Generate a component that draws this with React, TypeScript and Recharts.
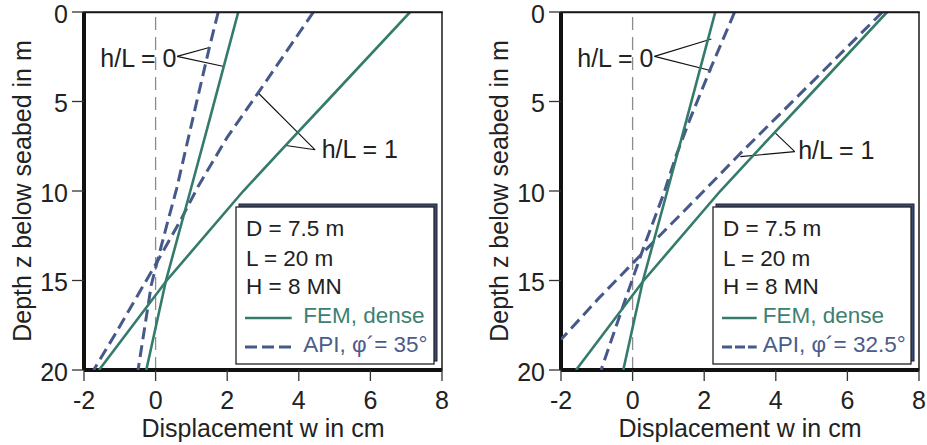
import React from 'react';
import { ScatterChart, Scatter, XAxis, YAxis, ReferenceLine, ReferenceDot, ReferenceArea } from 'recharts';

// ---------- ticks ----------
const xTicks = [-2, 0, 2, 4, 6, 8];
const yTicks = [0, 5, 10, 15, 20];

// ---------- FEM, dense (same in both panels) ----------
const femH0Depth = [0, 3, 6, 10, 15, 20];
const femH0Disp = [2.31, 1.91, 1.51, 0.97, 0.29, -0.26];
const femH1Depth = [0, 5, 7, 10, 15, 20];
const femH1Disp = [7.11, 4.78, 3.84, 2.45, 0.31, -1.58];

// ---------- API, phi' = 35° (left panel) ----------
const apiLeftH0Depth = [0, 2, 5, 9.85, 12, 13.6, 15.25, 20];
const apiLeftH0Disp = [1.75, 1.5, 1.15, 0.59, 0.3, 0.09, -0.12, -0.49];
const apiLeftH1Depth = [0, 4.5, 7, 9.7, 11.7, 14, 16, 18, 20];
const apiLeftH1Disp = [4.41, 2.87, 2.0, 1.2, 0.68, 0.03, -0.55, -1.13, -1.73];

// ---------- API, phi' = 32.5° (right panel) ----------
const apiRightH0Depth = [0, 3.2, 6, 8, 10.2, 13.2, 16.1, 20];
const apiRightH0Disp = [2.85, 2.17, 1.6, 1.22, 0.86, 0.3, -0.21, -0.88];
const apiRightH1Depth = [0, 4, 8, 10, 12, 14, 16, 18.3];
const apiRightH1Disp = [6.98, 4.97, 2.96, 1.99, 1.0, 0.02, -0.95, -2.0];

// ---------- annotations (data coordinates: w, z) ----------
const leftPointers = [
  [[0.6, 2.48], [1.5, 1.98]],
  [[0.6, 2.48], [1.91, 3.04]],
  [[4.455, 7.7], [2.84, 4.47]],
  [[4.455, 7.7], [3.64, 7.46]],
];
const leftLabels = [
  { w: 0.585, z: 3.08, text: 'h/L = 0', anchor: 'end' },
  { w: 4.64, z: 8.17, text: 'h/L = 1', anchor: 'start' },
];
const rightPointers = [
  [[0.61, 2.48], [2.2, 1.51]],
  [[0.61, 2.48], [2.2, 3.28]],
  [[4.53, 7.8], [3.99, 6.77]],
  [[4.53, 7.8], [3.01, 8.08]],
];
const rightLabels = [
  { w: 0.583, z: 3.1, text: 'h/L = 0', anchor: 'end' },
  { w: 4.625, z: 8.2, text: 'h/L = 1', anchor: 'start' },
];

const legendParams = ['D = 7.5 m', 'L = 20 m', 'H = 8 MN'];
const femLabel = 'FEM, dense';
const apiLeftLabel = 'API, φ´= 35°';
const apiRightLabel = 'API, φ´= 32.5°';

const xTitle = 'Displacement w in cm';
const yTitle = 'Depth z below seabed in m';

const zip = (depth: number[], disp: number[]) => depth.map((z, i) => ({ z, w: disp[i] }));

const FONT = "'Liberation Sans', Arial, Helvetica, sans-serif";
const GREEN = '#357b6c';
const BLUE = '#46598a';
const GREEN_TEXT = '#3e8071';
const BLUE_TEXT = '#4b5c8b';

const NoShape = () => <g />;

type PanelProps = {
  left: number;
  width: number;
  apiH0: { z: number; w: number }[];
  apiH1: { z: number; w: number }[];
  pointers: number[][][];
  labels: { w: number; z: number; text: string; anchor: string }[];
  apiLabel: string;
  sampleEnd: number;
  textStart: number;
};

function Legend({ apiLabel, sampleEnd, textStart }: { apiLabel: string; sampleEnd: number; textStart: number }) {
  const baselines = [236, 265.5, 294, 323, 352];
  return (
    <svg
      width={450}
      height={445}
      style={{ position: 'absolute', left: 0, top: 0, pointerEvents: 'none' }}
    >
      {/* top edge of the plot frame */}
      <line x1={84} x2={442.7} y1={12.5} y2={12.5} stroke="#1a1a1a" strokeWidth={1.5} />
      <rect x={239} y={204} width={198} height={157} fill="#3a4a76" stroke="#1e2230" strokeWidth={1} />
      <rect x={236} y={207} width={198} height={157} fill="#ffffff" stroke="#222" strokeWidth={1.3} />
      {legendParams.map((t, i) => (
        <text key={t} x={246} y={baselines[i]} fontSize={22.5} fill="#222" fontFamily={FONT}>
          {t}
        </text>
      ))}
      <line x1={245} x2={sampleEnd} y1={318} y2={318} stroke={GREEN} strokeWidth={2.6} />
      <text x={textStart} y={baselines[3]} fontSize={22.5} fill={GREEN_TEXT} fontFamily={FONT}>
        {femLabel}
      </text>
      <line
        x1={245}
        x2={sampleEnd}
        y1={347}
        y2={347}
        stroke={BLUE}
        strokeWidth={3}
        strokeDasharray={sampleEnd - 245 > 40 ? '12 5' : '10 3'}
      />
      <text x={textStart} y={baselines[4]} fontSize={22.5} fill={BLUE_TEXT} fontFamily={FONT}>
        {apiLabel}
      </text>
    </svg>
  );
}

function Panel({ left, width, apiH0, apiH1, pointers, labels, apiLabel, sampleEnd, textStart }: PanelProps) {
  const femH0 = zip(femH0Depth, femH0Disp);
  const femH1 = zip(femH1Depth, femH1Disp);
  const tickStyle = { fontSize: 25, fill: '#222', fontFamily: FONT };
  return (
    <div style={{ position: 'absolute', left, top: 0, width, height: 445 }}>
      <ScatterChart width={width} height={445} margin={{ top: 12, right: width - 442, bottom: 0, left: 0 }}>
        <XAxis
          type="number"
          dataKey="w"
          domain={[-2, 8]}
          ticks={xTicks}
          interval={0}
          allowDataOverflow
          height={75}
          tickSize={11}
          tickMargin={10}
          tick={tickStyle}
          tickLine={{ stroke: '#333', strokeWidth: 1.3 }}
          axisLine={{ stroke: '#111', strokeWidth: 4 }}
          label={{
            value: xTitle,
            position: 'insideBottom',
            offset: 8,
            style: { fontSize: 25, fill: '#222', fontFamily: FONT },
          }}
        />
        <YAxis
          type="number"
          dataKey="z"
          domain={[0, 20]}
          reversed
          ticks={yTicks}
          interval={0}
          allowDataOverflow
          width={84}
          tickSize={12}
          tickMargin={4}
          tick={{ ...tickStyle, dy: 2 }}
          tickLine={{ stroke: '#333', strokeWidth: 1.3 }}
          axisLine={{ stroke: '#111', strokeWidth: 4 }}
          label={{
            value: yTitle,
            angle: -90,
            position: 'insideLeft',
            offset: 22,
            style: { fontSize: 25, fill: '#222', fontFamily: FONT, textAnchor: 'middle' },
          }}
        />
        <ReferenceArea
          x1={-2}
          x2={8}
          y1={0}
          y2={20}
          ifOverflow="visible"
          fill="none"
          fillOpacity={0}
          stroke="#1a1a1a"
          strokeWidth={1.5}
        />
        <ReferenceLine x={0} stroke="#8c8c8c" strokeWidth={1.3} strokeDasharray="13 7" />
        <Scatter
          data={apiH0}
          fill={BLUE}
          line={{ stroke: BLUE, strokeWidth: 3, strokeDasharray: '12 6' }}
          shape={NoShape}
          isAnimationActive={false}
        />
        <Scatter
          data={apiH1}
          fill={BLUE}
          line={{ stroke: BLUE, strokeWidth: 3, strokeDasharray: '12 6' }}
          shape={NoShape}
          isAnimationActive={false}
        />
        <Scatter
          data={femH0}
          fill={GREEN}
          line={{ stroke: GREEN, strokeWidth: 2.6 }}
          shape={NoShape}
          isAnimationActive={false}
        />
        <Scatter
          data={femH1}
          fill={GREEN}
          line={{ stroke: GREEN, strokeWidth: 2.6 }}
          shape={NoShape}
          isAnimationActive={false}
        />
        {pointers.map((seg, i) => (
          <ReferenceLine
            key={'p' + i}
            segment={[
              { x: seg[0][0], y: seg[0][1] },
              { x: seg[1][0], y: seg[1][1] },
            ]}
            stroke="#111"
            strokeWidth={1.1}
          />
        ))}
        {labels.map((l, i) => (
          <ReferenceDot
            key={'l' + i}
            x={l.w}
            y={l.z}
            r={1}
            shape={(p: any) => (
              <text
                x={p.cx}
                y={p.cy}
                textAnchor={l.anchor as any}
                fontSize={25}
                fill="#222"
                fontFamily={FONT}
              >
                {l.text}
              </text>
            )}
          />
        ))}
      </ScatterChart>
      <Legend apiLabel={apiLabel} sampleEnd={sampleEnd} textStart={textStart} />
    </div>
  );
}

export default function App() {
  return (
    <div style={{ position: 'absolute', left: 0, top: 0, width: 927, height: 445, background: '#fff' }}>
      <Panel
        left={0}
        width={460}
        apiH0={zip(apiLeftH0Depth, apiLeftH0Disp)}
        apiH1={zip(apiLeftH1Depth, apiLeftH1Disp)}
        pointers={leftPointers}
        labels={leftLabels}
        apiLabel={apiLeftLabel}
        sampleEnd={291.7}
        textStart={303.3}
      />
      <Panel
        left={477}
        width={450}
        apiH0={zip(apiRightH0Depth, apiRightH0Disp)}
        apiH1={zip(apiRightH1Depth, apiRightH1Disp)}
        pointers={rightPointers}
        labels={rightLabels}
        apiLabel={apiRightLabel}
        sampleEnd={279.7}
        textStart={285.7}
      />
    </div>
  );
}
